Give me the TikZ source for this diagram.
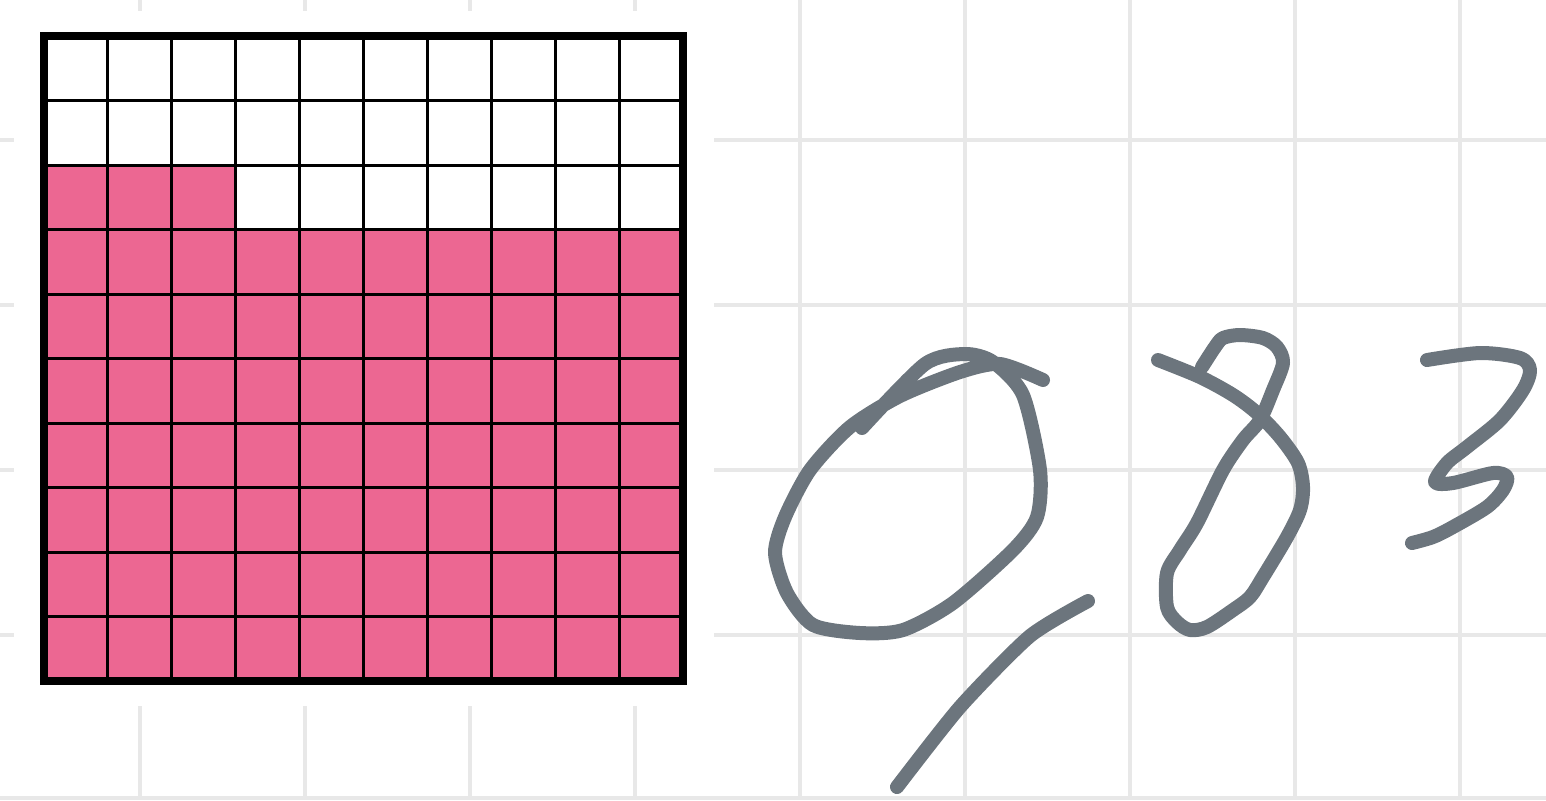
\documentclass[tikz,border=0pt]{standalone}
\usetikzlibrary{calc}

\begin{document}
\begin{tikzpicture}[
            x=0.5pt, y=-0.5pt,
            % stili
            paperline/.style={draw=gray!18, line width=2pt},
            cellfill/.style={fill=cellpink, draw=none},
            cellline/.style={draw=black, line width=1.5pt},
            frameline/.style={draw=black, line width=4pt},
            pen/.style={draw=pengray, line width=7pt, line cap=round, line join=round}
        ]
        \definecolor{cellpink}{RGB}{236,103,146}
        \definecolor{pengray}{RGB}{108,117,125}

        \useasboundingbox (0,0) rectangle (1546,800);

        % Quadretti del foglio
        \foreach \x in {140,305,470,635,800,965,1130,1295,1460}
            \draw[paperline] (\x,0) -- (\x,800);
        \foreach \y in {140,305,470,635,798}
            \draw[paperline] (0,\y) -- (1546,\y);
        \fill[white] (14,11) rectangle (714,706);

        % Celle colorate
        \fill[cellfill] (44,229) rectangle (683,681);
        \fill[cellfill] (44,165) rectangle (236,229);

        % Griglia 10x10
        \foreach \k in {1,...,9} {
            \draw[cellline] ({44+63.9*\k},36) -- ({44+63.9*\k},681);
            \draw[cellline] (44,{36+64.5*\k}) -- (683,{36+64.5*\k});
        }
        \draw[frameline] (44,36) rectangle (683,681);

        % Scrittura a mano: 0,83
        \draw[pen] plot[smooth, tension=0.45] coordinates {
            (862,428) (925,364) (965,354) (993,362) (1023,395)
            (1040,470) (1037,517) (1013,550) (953,603) (903,630) (860,633)
            (813,625) (787,593) (775,553) (785,517) (810,470) (850,427)
            (900,396) (960,372) (1000,364) (1043,380)};
        \draw[pen] plot[smooth, tension=0.4] coordinates {
            (1088,601) (1030,636) (960,707) (897,787)};
        \draw[pen] plot[smooth, tension=0.5] coordinates {
            (1158,360) (1200,377) (1233,395) (1257,413) (1280,437) (1298,463)
            (1303,487) (1300,510) (1287,537) (1263,577) (1250,597) (1233,610)
            (1207,627) (1190,630) (1177,622) (1167,607) (1167,573) (1180,550)
            (1197,523) (1223,470) (1243,440) (1260,420) (1273,390) (1283,363)
            (1277,347) (1263,338) (1240,335) (1223,338) (1215,347) (1202,367)};
        \draw[pen] plot[smooth, tension=0.5] coordinates {
            (1427,360) (1480,353) (1520,358) (1530,370) (1523,390) (1500,420)
            (1467,447) (1447,463) (1435,482) (1453,483) (1493,473) (1507,477)
            (1503,490) (1487,507) (1453,527) (1433,537) (1412,543)};

    \end{tikzpicture}
\end{document}
